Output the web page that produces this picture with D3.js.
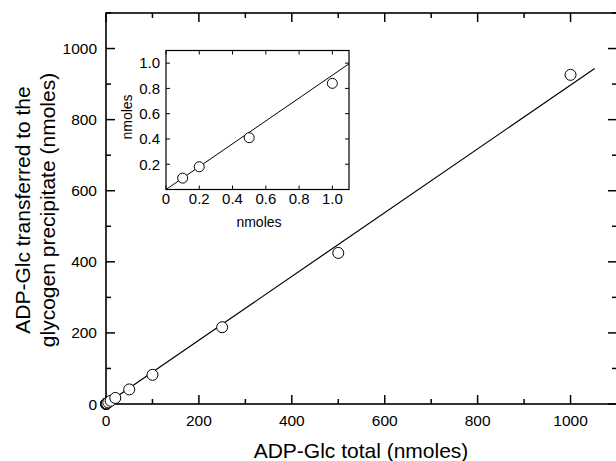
<!DOCTYPE html>
<html>
<head>
<meta charset="utf-8">
<script src="https://cdn.jsdelivr.net/npm/d3@7"></script>
<style>
  body { margin: 0; background: #fff; }
  svg { display: block; font-family: "Liberation Sans", Arial, sans-serif; }
</style>
</head>
<body>
<div id="graph"></div>
<script>
// main plot data (nmoles)
var totalX = [0.1, 0.2, 0.5, 1, 2, 5, 10, 20, 50, 100, 250, 500, 1000];
var transferredY = [0.09, 0.18, 0.41, 0.84, 1.8, 4.5, 9, 17, 41, 82, 216, 425, 926];
var fitX = [0, 1052];
var fitY = [0, 944];
var mainTicks = [0, 200, 400, 600, 800, 1000];
var mainMinor = [100, 300, 500, 700, 900, 1100];

// inset data
var insetX = [0.1, 0.2, 0.5, 1.0];
var insetY = [0.09, 0.18, 0.41, 0.84];
var insetFitX = [0, 1.1];
var insetFitY = [0, 0.995];
var insetXTicks = [0, 0.2, 0.4, 0.6, 0.8, 1.0];
var insetYTicks = [0.2, 0.4, 0.6, 0.8, 1.0];

var w = 616, h = 461;
var svg = d3.select("#graph").append("svg")
    .attr("width", w)
    .attr("height", h);

var x = d3.scaleLinear().domain([0, 1100]).range([106, 617]);
var y = d3.scaleLinear().domain([0, 1100]).range([404, 13]);

// frame
var main = svg.append("g");
main.append("rect")
    .attr("x", x(0)).attr("y", y(1100))
    .attr("width", x(1100) - x(0)).attr("height", y(0) - y(1100))
    .attr("fill", "none").attr("stroke", "#000").attr("stroke-width", 1.6);

function ticks(g, sc, vals, len, side) {
  vals.forEach(function(v) {
    var p = sc(v);
    if (side == "bottom") g.append("line").attr("x1", p).attr("x2", p).attr("y1", y(0)).attr("y2", y(0) - len);
    if (side == "top") g.append("line").attr("x1", p).attr("x2", p).attr("y1", y(1100)).attr("y2", y(1100) + len);
    if (side == "left") g.append("line").attr("y1", p).attr("y2", p).attr("x1", x(0)).attr("x2", x(0) + len);
    if (side == "right") g.append("line").attr("y1", p).attr("y2", p).attr("x1", x(1100)).attr("x2", x(1100) - len);
  });
}
var tg = main.append("g").attr("stroke", "#000").attr("stroke-width", 1.5);
ticks(tg, x, mainTicks, 9, "bottom");
ticks(tg, x, mainMinor, 5, "bottom");
ticks(tg, x, mainTicks, 9, "top");
ticks(tg, x, mainMinor, 5, "top");
ticks(tg, y, mainTicks, 9, "left");
ticks(tg, y, mainMinor, 5, "left");
ticks(tg, y, mainTicks, 9, "right");
ticks(tg, y, mainMinor, 5, "right");

main.selectAll("text.xt").data(mainTicks).enter().append("text")
    .attr("x", function(d) { return x(d); })
    .attr("y", 426)
    .attr("text-anchor", "middle")
    .attr("font-size", 15.5)
    .text(function(d) { return d; });
main.selectAll("text.yt").data(mainTicks).enter().append("text")
    .attr("x", 97)
    .attr("y", function(d) { return y(d) + 5.5; })
    .attr("text-anchor", "end")
    .attr("font-size", 15.5)
    .text(function(d) { return d; });

main.append("text")
    .attr("x", 361).attr("y", 458)
    .attr("text-anchor", "middle").attr("font-size", 21)
    .text("ADP-Glc total (nmoles)");
var yl = main.append("text")
    .attr("transform", "translate(0,210) rotate(-90)")
    .attr("text-anchor", "middle").attr("font-size", 21);
yl.append("tspan").attr("x", 0).attr("y", 30).text("ADP-Glc transferred to the");
yl.append("tspan").attr("x", 0).attr("y", 55).text("glycogen precipitate (nmoles)");

// fit line
main.append("line")
    .attr("x1", x(fitX[0])).attr("y1", y(fitY[0]))
    .attr("x2", x(fitX[1])).attr("y2", y(fitY[1]))
    .attr("stroke", "#000").attr("stroke-width", 1.2);

main.selectAll("circle").data(totalX).enter().append("circle")
    .attr("cx", function(d) { return x(d); })
    .attr("cy", function(d, i) { return y(transferredY[i]); })
    .attr("r", 5.5)
    .attr("fill", "#fff").attr("stroke", "#000").attr("stroke-width", 1);

// inset
var ix = d3.scaleLinear().domain([0, 1.1]).range([166, 349]);
var iy = d3.scaleLinear().domain([0, 1.1]).range([189.5, 50.5]);
var ins = svg.append("g");
ins.append("rect")
    .attr("x", ix(0)).attr("y", iy(1.1))
    .attr("width", ix(1.1) - ix(0)).attr("height", iy(0) - iy(1.1))
    .attr("fill", "#fff").attr("stroke", "#000").attr("stroke-width", 1.2);

var itg = ins.append("g").attr("stroke", "#000").attr("stroke-width", 1);
insetXTicks.forEach(function(v) {
  itg.append("line").attr("x1", ix(v)).attr("x2", ix(v)).attr("y1", iy(0)).attr("y2", iy(0) - 4);
  itg.append("line").attr("x1", ix(v)).attr("x2", ix(v)).attr("y1", iy(1.1)).attr("y2", iy(1.1) + 4);
});
insetYTicks.forEach(function(v) {
  itg.append("line").attr("y1", iy(v)).attr("y2", iy(v)).attr("x1", ix(0)).attr("x2", ix(0) + 4);
  itg.append("line").attr("y1", iy(v)).attr("y2", iy(v)).attr("x1", ix(1.1)).attr("x2", ix(1.1) - 4);
});

ins.selectAll("text.ixt").data(insetXTicks).enter().append("text")
    .attr("x", function(d) { return ix(d); })
    .attr("y", 204)
    .attr("text-anchor", "middle").attr("font-size", 15)
    .text(function(d) { return d == 0 ? "0" : d.toFixed(1); });
ins.selectAll("text.iyt").data(insetYTicks).enter().append("text")
    .attr("x", 160)
    .attr("y", function(d) { return iy(d) + 5.3; })
    .attr("text-anchor", "end").attr("font-size", 15)
    .text(function(d) { return d.toFixed(1); });

ins.append("text")
    .attr("x", 259).attr("y", 227)
    .attr("text-anchor", "middle").attr("font-size", 14)
    .text("nmoles");
ins.append("text")
    .attr("transform", "translate(132,117) rotate(-90)")
    .attr("text-anchor", "middle").attr("font-size", 14)
    .text("nmoles");

ins.append("line")
    .attr("x1", ix(insetFitX[0])).attr("y1", iy(insetFitY[0]))
    .attr("x2", ix(insetFitX[1])).attr("y2", iy(insetFitY[1]))
    .attr("stroke", "#000").attr("stroke-width", 1);

ins.selectAll("circle").data(insetX).enter().append("circle")
    .attr("cx", function(d) { return ix(d); })
    .attr("cy", function(d, i) { return iy(insetY[i]); })
    .attr("r", 5)
    .attr("fill", "#fff").attr("stroke", "#000").attr("stroke-width", 1);
</script>
</body>
</html>
